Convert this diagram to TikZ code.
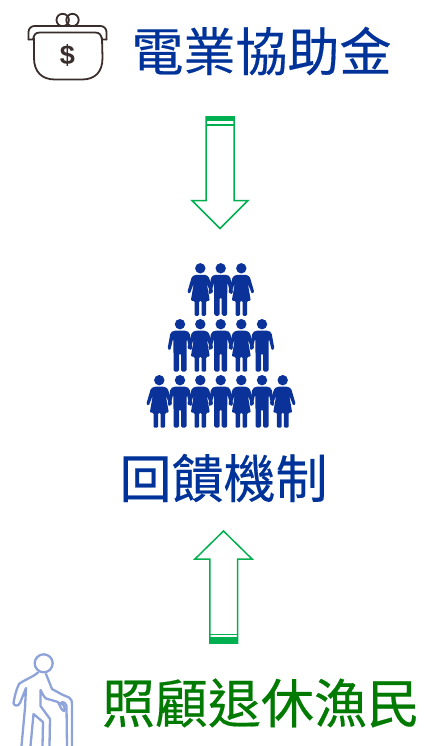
\documentclass[tikz,border=0pt]{standalone}
\usepackage{fontspec}
\newfontfamily\cjkfont[FakeBold=0.35]{Noto Sans CJK TC}
\setsansfont{Liberation Sans}
\definecolor{navyblue}{HTML}{003399}
\definecolor{deepgreen}{HTML}{007A00}
\definecolor{arrowgreen}{HTML}{00B050}
\definecolor{personblue}{HTML}{0A3299}
\definecolor{purseink}{HTML}{3A2E2C}
\definecolor{elderblue}{HTML}{8EA3DA}
\tikzset{
  x=1pt,y=-1pt,
  title/.style={font=\cjkfont\fontsize{52}{52}\selectfont,inner sep=0pt,anchor=center},
  widetitle/.style={font=\cjkfont\fontsize{53}{53}\selectfont,inner sep=0pt,anchor=center},
  blockarrow/.style={draw=arrowgreen,line width=1.5pt,fill=white,line join=miter},
  arrowband/.style={fill=arrowgreen,draw=none},
  purseline/.style={draw=purseink,line width=1.8pt,line join=round,line cap=round},
  elderline/.style={draw=elderblue,line width=2.3pt,line join=round,line cap=round},
  man/.pic={
    \fill[personblue] (0,0) circle (5.2);
    \fill[personblue,rounded corners=1.6pt] (-6.5,6.5) -- (6.5,6.5) -- (9.5,8.5) -- (12.5,25) -- (9.8,26.5) -- (6.8,14) -- (6.5,27)
      -- (6.5,47.5) -- (1,47.5) -- (1,29) -- (-1,29) -- (-1,47.5) -- (-6.5,47.5) -- (-6.5,27) -- (-6.8,14) -- (-9.8,26.5) -- (-12.5,25) -- (-9.5,8.5) -- cycle;
  },
  woman/.pic={
    \fill[personblue] (0,0) circle (5.2);
    \fill[personblue,rounded corners=1.2pt] (-5,6.5) -- (5,6.5) -- (8.5,8.5) -- (13,24) -- (10.5,25.5) -- (6.5,15) -- (9.5,32.5) -- (5.8,32.5)
      -- (5.8,47.5) -- (1.2,47.5) -- (1.2,32.5) -- (-1.2,32.5) -- (-1.2,47.5) -- (-5.8,47.5) -- (-5.8,32.5) -- (-9.5,32.5) -- (-6.5,15) -- (-10.5,25.5) -- (-13,24) -- (-8.5,8.5) -- cycle;
  }
}
\begin{document}
\begin{tikzpicture}
\useasboundingbox (0,0) rectangle (423,746);
\fill[white] (0,0) rectangle (423,746);

% purse
\draw[purseline] (62.7,20) circle (6.2);
\draw[purseline] (72.5,20) circle (6.2);
\draw[purseline,fill=white,rounded corners=6pt] (28.5,39.5) -- (28.5,26) -- (106.5,26) -- (106.5,39.5);
\draw[purseline,fill=white] (28.5,39.5) -- (33,39.5) .. controls (34,35) and (35,32.5) .. (40,32.5) -- (95,32.5) .. controls (100,32.5) and (101,35) .. (102,39.5) -- (106.5,39.5);
\draw[purseline] (34,38) -- (34,58) .. controls (34,72) and (42,79.5) .. (55,79.5) -- (82,79.5) .. controls (95,79.5) and (102.5,72) .. (102.5,58) -- (102,38);
\node[text=purseink,font=\sffamily\bfseries\fontsize{27}{27}\selectfont,inner sep=0pt] (dollar) at (67.5,55.5) {\$};

\node[title,text=navyblue] (subsidy) at (261.5,51) {電業協助金};

% top arrow
\draw[blockarrow] (206,117) -- (234,117) -- (234,200.5) -- (248,200.5) -- (220,228.5) -- (192,200.5) -- (206,200.5) -- cycle;
\fill[arrowband] (205.5,116.5) rectangle (234.5,121.5);
\fill[arrowband] (205.5,124) rectangle (234.5,126);

% people
\foreach \xx/\kind in {200.3/woman,220.7/man,241.3/woman} \pic at (\xx,268.3) {\kind};
\foreach \xx/\kind in {180/man,200.3/woman,220.7/man,241.3/woman,262/man} \pic at (\xx,324.2) {\kind};
\foreach \xx/\kind in {159.3/woman,180/man,200.3/woman,220.7/man,241.3/woman,262/man,282.7/woman} \pic at (\xx,380.2) {\kind};

\node[title,text=navyblue] (feedback) at (223.5,478) {回饋機制};

% bottom arrow
\draw[blockarrow] (209.8,643) -- (237.5,643) -- (237.5,559) -- (252,559) -- (223.5,531) -- (195,559) -- (209.8,559) -- cycle;
\fill[arrowband] (209,637.3) rectangle (238.3,643.7);
\fill[arrowband] (209.8,633.5) rectangle (237.5,635);

% elder
\draw[elderline] (43.7,663.3) circle (9);
\draw[elderline] (38,672.5) .. controls (33,677) and (24,680) .. (19,684) .. controls (16,690) and (14.5,697) .. (13.5,703) .. controls (14,706) and (18,707) .. (20,703) -- (26,688) -- (25,708) -- (21.5,746);
\draw[elderline] (30.5,746) -- (33.5,714) -- (43,722) -- (42.5,746) (49.5,746) -- (50,719) -- (40.5,706) -- (40.5,690) .. controls (42,693) and (44,697) .. (46,698.5) -- (58,702) .. controls (60,706) and (62,711) .. (64,711) .. controls (66,710) and (64,703) .. (60,703);
\draw[elderline] (46,674) -- (52,689) -- (62,694.5) -- (69,697.5) .. controls (71.5,699) and (72,701) .. (72,704) -- (72,746) (67,746) -- (66.5,706) .. controls (66,703) and (64,702) .. (62,702);

\node[widetitle,text=deepgreen] (fishers) at (261,703) {照顧退休漁民};
\end{tikzpicture}
\end{document}
